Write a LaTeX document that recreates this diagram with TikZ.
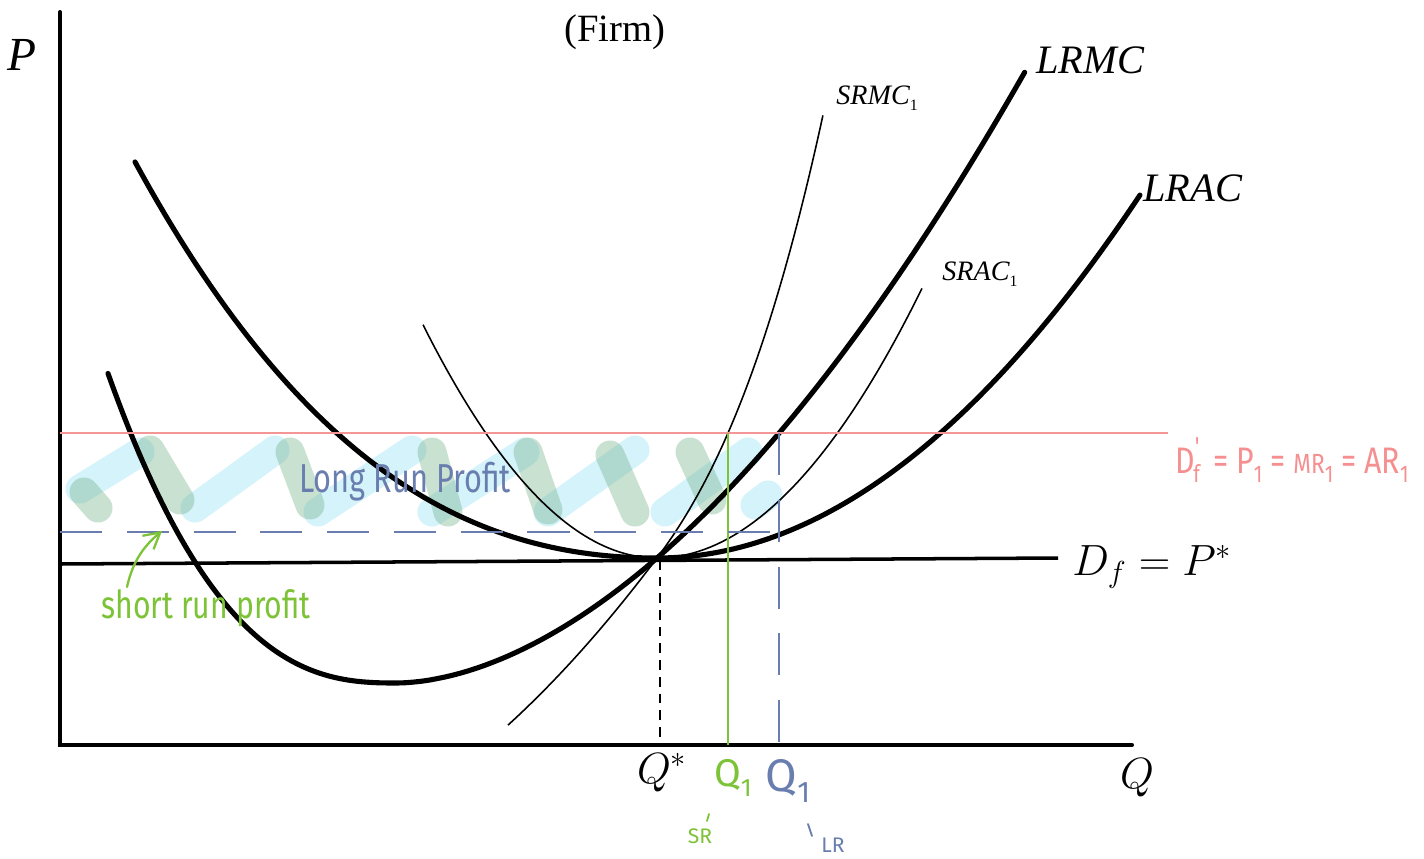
\documentclass[tikz,border=0pt]{standalone}
\usepackage{fontspec}
\setmainfont{Liberation Serif}
\newfontfamily\hand{Fira Sans}
\usetikzlibrary{arrows.meta}
\definecolor{pinkline}{RGB}{245,150,150}
\definecolor{bluehand}{RGB}{105,125,175}
\definecolor{greenhand}{RGB}{125,195,55}
\definecolor{hcyan}{RGB}{160,230,245}
\definecolor{hgreen}{RGB}{120,180,140}
\newcommand\hsub[1]{\raisebox{-0.45ex}{\scalebox{0.65}{#1}}}
\begin{document}
\begin{tikzpicture}[x=0.02cm,y=-0.02cm,
  axisline/.style={line width=2.3pt, line cap=round},
  thickcurve/.style={line width=2.9pt, line cap=round},
  thincurve/.style={line width=0.9pt},
  hatchc/.style={line width=16.5pt, line cap=round, draw=hcyan, draw opacity=0.45},
  hatchg/.style={line width=16.5pt, line cap=round, draw=hgreen, draw opacity=0.4},
  bluedash/.style={draw=bluehand, line width=1.2pt, dash pattern=on 24pt off 14pt},
  serlabel/.style={inner sep=0pt, font=\fontsize{23}{26}\selectfont\itshape},
  handblue/.style={inner sep=0pt, text=bluehand, font=\hand},
  handgreen/.style={inner sep=0pt, text=greenhand, font=\hand},
  handpink/.style={inner sep=0pt, text=pinkline!95!red, font=\hand}]
\useasboundingbox (0,0) rectangle (1424,859);
\fill[white] (0,0) rectangle (1424,859);

% hatching (profit area)
\draw[hatchc] (80,489) -- (140,452);
\draw[hatchc] (195,508) -- (275,450);
\draw[hatchc] (318,512) -- (412,450);
\draw[hatchc] (432,512) -- (525,452);
\draw[hatchc] (548,512) -- (635,450);
\draw[hatchc] (665,512) -- (748,452);
\draw[hatchc] (755,505) -- (768,495);
\draw[hatchg] (84,492) -- (98,508);
\draw[hatchg] (150,450) -- (180,500);
\draw[hatchg] (290,452) -- (310,505);
\draw[hatchg] (432,452) -- (448,512);
\draw[hatchg] (528,452) -- (548,510);
\draw[hatchg] (610,455) -- (635,512);
\draw[hatchg] (690,452) -- (712,500);

% axes
\coordinate (O) at (60,745);
\coordinate (Ytop) at (60,12);
\coordinate (Xend) at (1132,745);
\draw[axisline] (Ytop) -- (O) -- (Xend);

% demand line
\coordinate (Dl) at (60,564);
\coordinate (Dr) at (1058,558);
\draw[line width=2pt] (Dl) -- (Dr);

% LRAC
\draw[thickcurve] plot[domain=5.22:0, samples=70] ({657-100*\x},{558-8.46*\x*\x-1.164*\x*\x*\x})
  -- plot[domain=0:4.83, samples=70] ({657+100*\x},{558-15.56*\x*\x});
% LRMC
\draw[thickcurve] plot[domain=1.445:0.002, samples=60] ({397-200*\x},{683-118*pow(\x,2.62)})
  -- plot[domain=0.002:2.415, samples=80] ({397+260*\x},{683-125*pow(\x,1.8)});
% SRMC1
\draw[thincurve] plot[domain=-1.49:0, samples=40] ({657+100*\x},{558-133.08*\x-14.05*\x*\x})
  -- plot[domain=0:1.66, samples=60] ({657+100*\x},{558-133.08*\x-45.55*\x*\x-21.11*\x*\x*\x});
% SRAC1
\draw[thincurve] plot[domain=2.34:0, samples=50] ({657-100*\x},{558-42.6*\x*\x})
  -- plot[domain=0:2.65, samples=50] ({657+100*\x},{558-38.4*\x*\x});

% new price line
\coordinate (Pl) at (60,433);
\coordinate (Pr) at (1168,433);
\draw[pinkline, line width=1.2pt] (Pl) -- (Pr);

% quantity lines
\coordinate (Qs) at (660,560);
\coordinate (Qsb) at (660,745);
\draw[line width=1pt, dash pattern=on 5.5pt off 4pt] (Qs) -- (Qsb);
\coordinate (Qsrt) at (728,433);
\coordinate (Qsrb) at (728,745);
\draw[draw=greenhand, line width=1.3pt] (Qsrt) -- (Qsrb);
\coordinate (Qlrt) at (779,433);
\coordinate (Qlrb) at (779,745);
\draw[bluedash] (Qlrt) -- (Qlrb);
\coordinate (Hl) at (60,532);
\coordinate (Hr) at (779,532);
\draw[bluedash] (Hl) -- (Hr);

% labels
\node[inner sep=0pt, font=\fontsize{27}{30}\selectfont\itshape] (lP) at (22,55) {P};
\node[inner sep=0pt, font=\fontsize{22}{26}\selectfont] (firm) at (615,32) {(Firm)};
\node[inner sep=0pt, anchor=west, font=\fontsize{16}{18}\selectfont\itshape] (srmc) at (836,98) {SRMC\raisebox{-0.45ex}{\fontsize{9}{9}\selectfont\upshape 1}};
\node[inner sep=0pt, anchor=west, font=\fontsize{16}{18}\selectfont\itshape] (srac) at (942,274) {SRAC\raisebox{-0.45ex}{\fontsize{9}{9}\selectfont\upshape 1}};
\node[serlabel, anchor=west] (lrmc) at (1036,60) {LRMC};
\node[serlabel, anchor=west] (lrac) at (1143,188) {LRAC};
\node[inner sep=0pt, anchor=west, font=\fontsize{24}{28}\selectfont] (df) at (1072,567) {$D_f = P^*$};
\node[inner sep=0pt, font=\fontsize{25}{28}\selectfont] (qstar) at (662,773) {$Q^*$};
\node[inner sep=0pt, font=\fontsize{25}{28}\selectfont] (qax) at (1137,778) {$Q$};

\node[handpink, anchor=west, font=\hand\fontsize{21}{24}\selectfont] (pinklab) at (1175,460)
  {\scalebox{0.82}[1]{D\raisebox{0.9ex}{\scalebox{0.7}{'}}\hspace{-0.2em}\hsub{f} \,= P\hsub{1} = \scalebox{0.75}{MR}\hsub{1} = AR\hsub{1}}};
\node[handblue, font=\hand\fontsize{23}{26}\selectfont] (lrp) at (405,482) {\scalebox{0.76}[1]{Long Run Profit}};
\node[handgreen, font=\hand\fontsize{22}{24}\selectfont] (srp) at (206,608) {\scalebox{0.78}[1]{short run profit}};
\coordinate (srpTail) at (127,587);
\coordinate (srpTip) at (162,531);
\draw[greenhand, line width=1.3pt, line cap=round, -{Straight Barb[length=9pt, width=10pt]}]
  (srpTail) .. controls (133,560) and (145,545) .. (srpTip);

\node[handgreen, font=\hand\fontsize{22}{24}\selectfont] (q1sr) at (733,778) {Q\hsub{1}};
\node[handgreen, font=\hand\fontsize{12}{14}\selectfont] (sr) at (700,836) {SR};
\coordinate (srt1) at (709,814);
\coordinate (srt2) at (707,821);
\draw[greenhand, line width=1pt, line cap=round] (srt1) -- (srt2);
\node[handblue, font=\hand\fontsize{26}{28}\selectfont] (q1lr) at (788,781) {Q\hsub{1}};
\node[handblue, font=\hand\fontsize{12}{14}\selectfont] (lr) at (833,845) {LR};
\coordinate (lrt1) at (808,824);
\coordinate (lrt2) at (812,836);
\draw[bluehand, line width=1pt, line cap=round] (lrt1) -- (lrt2);
\end{tikzpicture}
\end{document}
